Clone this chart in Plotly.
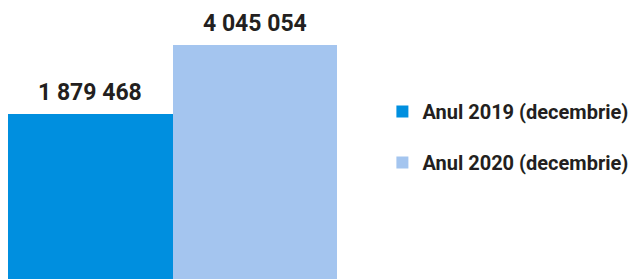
import plotly.graph_objects as go

series_names = ["Anul 2019 (decembrie)", "Anul 2020 (decembrie)"]
values = [1879468, 4045054]
colors = ["#008FDF", "#A4C5EF"]

axis_min = -3299100
axis_max = 5206300

FONT = "Roboto"
TXT = "#231F20"

fig = go.Figure()
for name, v, c in zip(series_names, values, colors):
    fig.add_trace(go.Bar(
        x=[name], y=[v - axis_min], base=[axis_min], name=name,
        marker=dict(color=c, line=dict(width=0)),
        legendgroup=name, hoverinfo="skip",
    ))
    fig.add_annotation(
        x=name, y=v, yref="y", xref="x", text=f"{v:,}".replace(",", " "),
        showarrow=False, yanchor="bottom", yshift=6,
        font=dict(family=FONT, size=23, color=TXT, weight="bold"),
    )

fig.update_layout(
    width=635, height=271,
    margin=dict(l=0, r=306, t=0, b=0, autoexpand=False),
    paper_bgcolor="white", plot_bgcolor="white",
    barmode="overlay", bargap=0,
    showlegend=True,
    legend=dict(
        x=1.138, y=0.69, xanchor="left", yanchor="top",
        font=dict(family=FONT, size=20, color=TXT, weight="bold"),
        traceorder="grouped", tracegroupgap=22,
        bgcolor="rgba(0,0,0,0)",
    ),
    xaxis=dict(visible=False, range=[-0.5, 1.5]),
    yaxis=dict(visible=False, range=[axis_min, axis_max]),
)

fig.write_html("out.html")
